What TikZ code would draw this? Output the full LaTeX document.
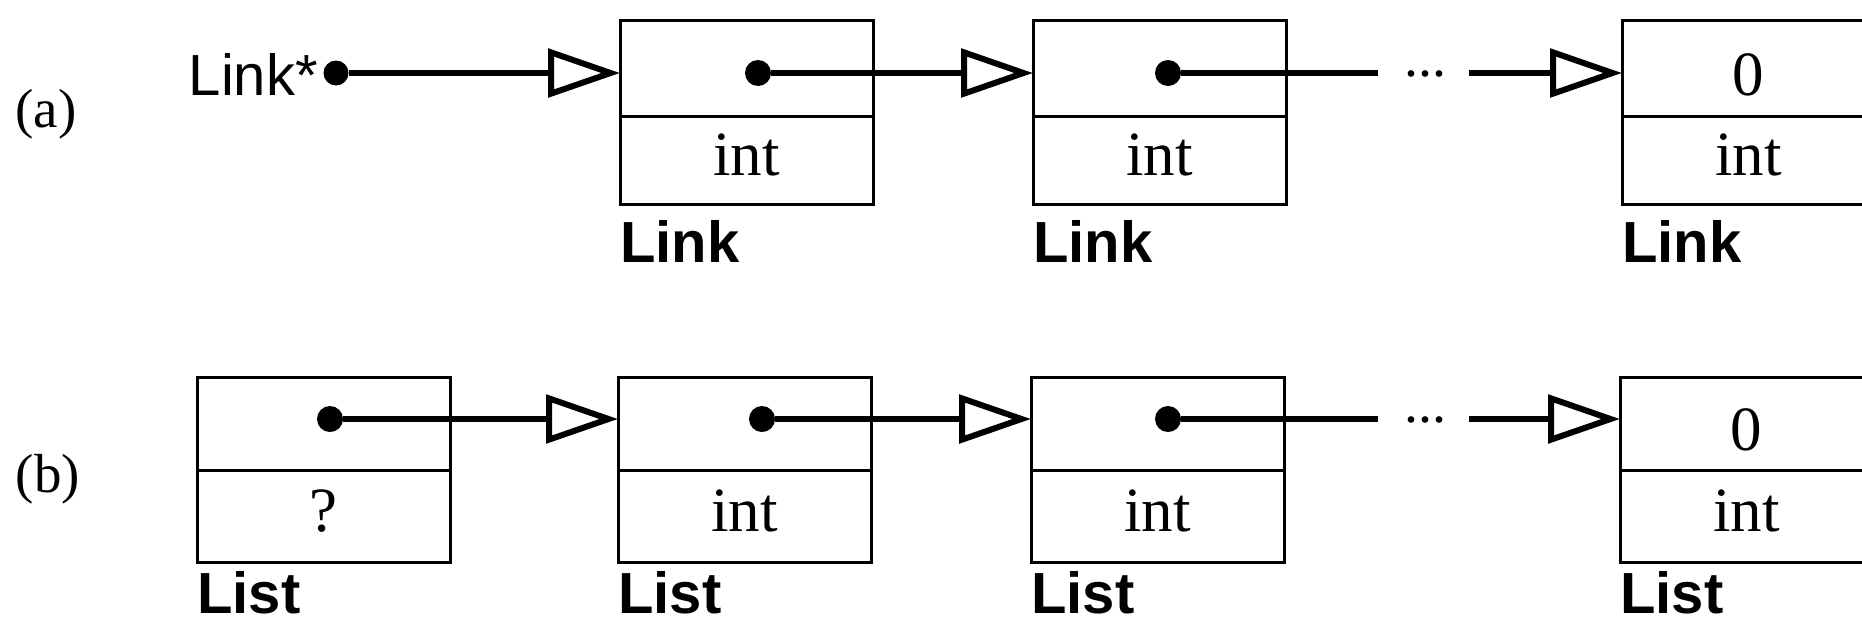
\documentclass[tikz,border=0pt]{standalone}
\usepackage{fontspec}
\setmainfont{Liberation Serif}
\newfontfamily\labelsans{Liberation Sans}
\usetikzlibrary{arrows.meta}
\begin{document}
\begin{tikzpicture}[x=1pt,y=-1pt,
  cell/.style={draw, line width=3pt, minimum width=253pt, inner sep=0pt, outer sep=0pt,
    anchor=north west, font=\fontsize{63}{63}\selectfont},
  topcell/.style={cell, text height=54pt, text depth=0pt},
  botcell/.style={cell, text height=31pt, text depth=0pt},
  dotc/.style={circle, fill, inner sep=0pt, minimum size=26pt},
  link/.style={line width=6pt},
  ptr/.style={line width=6pt, -{Triangle[open, length=72pt, width=48pt, line width=6pt]}},
  lbl/.style={anchor=base west, inner sep=0pt, font=\labelsans\bfseries\fontsize{58}{58}\selectfont},
  tag/.style={anchor=base, inner sep=0pt, font=\fontsize{55}{55}\selectfont},
  ellip/.style={anchor=base, inner sep=0pt, font=\fontsize{56}{56}\selectfont}]
\useasboundingbox (0,0) rectangle (1862,624);
\clip (0,0) rectangle (1862,624);

% ---------- row (a) ----------
\node[tag] (pa) at (46,127) {(a)};
\node[anchor=base east, inner sep=0pt, font=\labelsans\fontsize{58}{58}\selectfont] (lp) at (318,95) {Link*};
\node[dotc, minimum size=25pt] (ad0) at (336,73) {};

\node[topcell, minimum height=96pt] (a1t) at (620,20) {};
\node[botcell, minimum height=88pt] (a1b) at (620,116) {int};
\node[lbl] (la1) at (620,262) {Link};
\node[dotc] (ad1) at (758,73) {};

\node[topcell, minimum height=96pt] (a2t) at (1033,20) {};
\node[botcell, minimum height=88pt] (a2b) at (1033,116) {int};
\node[lbl] (la2) at (1033,262) {Link};
\node[dotc] (ad2) at (1168,73) {};

\node[topcell, minimum height=96pt] (a3t) at (1622,20) {0};
\node[botcell, minimum height=88pt] (a3b) at (1622,116) {int};
\node[lbl] (la3) at (1622,262) {Link};

\coordinate (ga1) at (1378,73);
\coordinate (ga2) at (1469,73);
\node[ellip] (ea) at (1425.5,76) {...};

\draw[ptr] (ad0) -- (a1t.west |- ad0);
\draw[ptr] (ad1) -- (a2t.west |- ad1);
\draw[link] (ad2) -- (ga1);
\draw[ptr] (ga2) -- (a3t.west |- ga2);

% ---------- row (b) ----------
\node[tag] (pb) at (48,492) {(b)};

\node[topcell, minimum height=93pt] (b0t) at (197,377) {};
\node[botcell, minimum height=92pt] (b0b) at (197,470) {?};
\node[lbl] (lb0) at (197,613) {List};
\node[dotc] (bd0) at (330,419) {};

\node[topcell, minimum height=93pt] (b1t) at (618,377) {};
\node[botcell, minimum height=92pt] (b1b) at (618,470) {int};
\node[lbl] (lb1) at (618,613) {List};
\node[dotc] (bd1) at (762,419) {};

\node[topcell, minimum height=93pt] (b2t) at (1031,377) {};
\node[botcell, minimum height=92pt] (b2b) at (1031,470) {int};
\node[lbl] (lb2) at (1031,613) {List};
\node[dotc] (bd2) at (1168,419) {};

\node[topcell, minimum height=93pt] (b3t) at (1620,377) {0};
\node[botcell, minimum height=92pt] (b3b) at (1620,470) {int};
\node[lbl] (lb3) at (1620,613) {List};

\coordinate (gb1) at (1378,419);
\coordinate (gb2) at (1469,419);
\node[ellip] (eb) at (1425.5,422) {...};

\draw[ptr] (bd0) -- (b1t.west |- bd0);
\draw[ptr] (bd1) -- (b2t.west |- bd1);
\draw[link] (bd2) -- (gb1);
\draw[ptr] (gb2) -- (b3t.west |- gb2);
\end{tikzpicture}
\end{document}
